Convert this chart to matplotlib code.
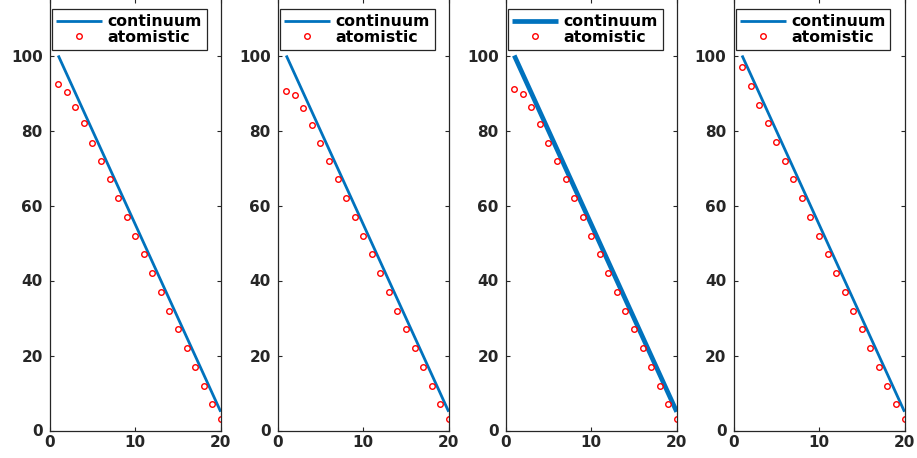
import matplotlib
matplotlib.use("Agg")
import matplotlib.pyplot as plt

# ---- data ----
x_nodes = list(range(1, 21))
continuum = [100, 95, 90, 85, 80, 75, 70, 65, 60, 55, 50, 45, 40, 35, 30, 25, 20, 15, 10, 5]

atom_tail = [72, 67, 62, 57, 52, 47, 42, 37, 32, 27, 22, 17, 12, 7, 3]
atomistic_1 = [92.4, 90.4, 86.2, 81.9, 76.7] + atom_tail
atomistic_2 = [90.5, 89.5, 85.9, 81.5, 76.7] + atom_tail
atomistic_3 = [91.2, 89.7, 86.2, 81.7, 76.7] + atom_tail
atomistic_4 = [96.9, 91.9, 86.8, 82.1, 77.0] + atom_tail
atomistic_sets = [atomistic_1, atomistic_2, atomistic_3, atomistic_4]
line_widths = [2.0, 2.0, 3.4, 2.0]

x_ticks = [0, 10, 20]
y_ticks = [0, 20, 40, 60, 80, 100]
labels = ["continuum", "atomistic"]

# ---- style ----
plt.rcParams['font.family'] = ['DejaVu Sans']
plt.rcParams['font.weight'] = 'bold'
BLUE = "#0072BD"
AX = "#262626"

W, H = 917, 458
fig = plt.figure(figsize=(W / 100, H / 100), dpi=100)

lefts_px = [49.7, 277.7, 505.7, 733.5]
width_px = 171.0
bottom_px = 430.5
top_px = -1.5
ytop = (bottom_px - top_px) / 3.75

for i, left in enumerate(lefts_px):
    ax = fig.add_axes([left / W, (H - bottom_px) / H, width_px / W, (bottom_px - top_px) / H])
    ax.plot(x_nodes, continuum, color=BLUE, lw=line_widths[i], label=labels[0], solid_capstyle='butt')
    ax.plot(x_nodes, atomistic_sets[i], linestyle='none', marker='o', markersize=4.0,
            markerfacecolor='none', markeredgecolor='red', markeredgewidth=1.0, label=labels[1])
    ax.set_xlim(0, 20)
    ax.set_ylim(0, ytop)
    ax.set_xticks(x_ticks)
    ax.set_yticks(y_ticks)
    ax.tick_params(direction='in', top=True, right=True, length=3, width=0.8,
                   colors=AX, labelsize=11, pad=3)
    ax.tick_params(axis='y', pad=5)
    for lab in ax.get_xticklabels() + ax.get_yticklabels():
        lab.set_fontweight('bold')
    for sp in ax.spines.values():
        sp.set_color(AX)
        sp.set_linewidth(0.9)
    leg = ax.legend(loc='upper left', bbox_to_anchor=(0.012, 1 - 10.8 / (bottom_px - top_px)),
                    borderaxespad=0, handlelength=2.9, handletextpad=0.35,
                    labelspacing=0.05, borderpad=0.3, fancybox=False, framealpha=1,
                    edgecolor=AX, prop={'weight': 'bold', 'size': 11.3})
    leg.get_frame().set_linewidth(0.9)

fig.savefig("out.png", dpi=100)
